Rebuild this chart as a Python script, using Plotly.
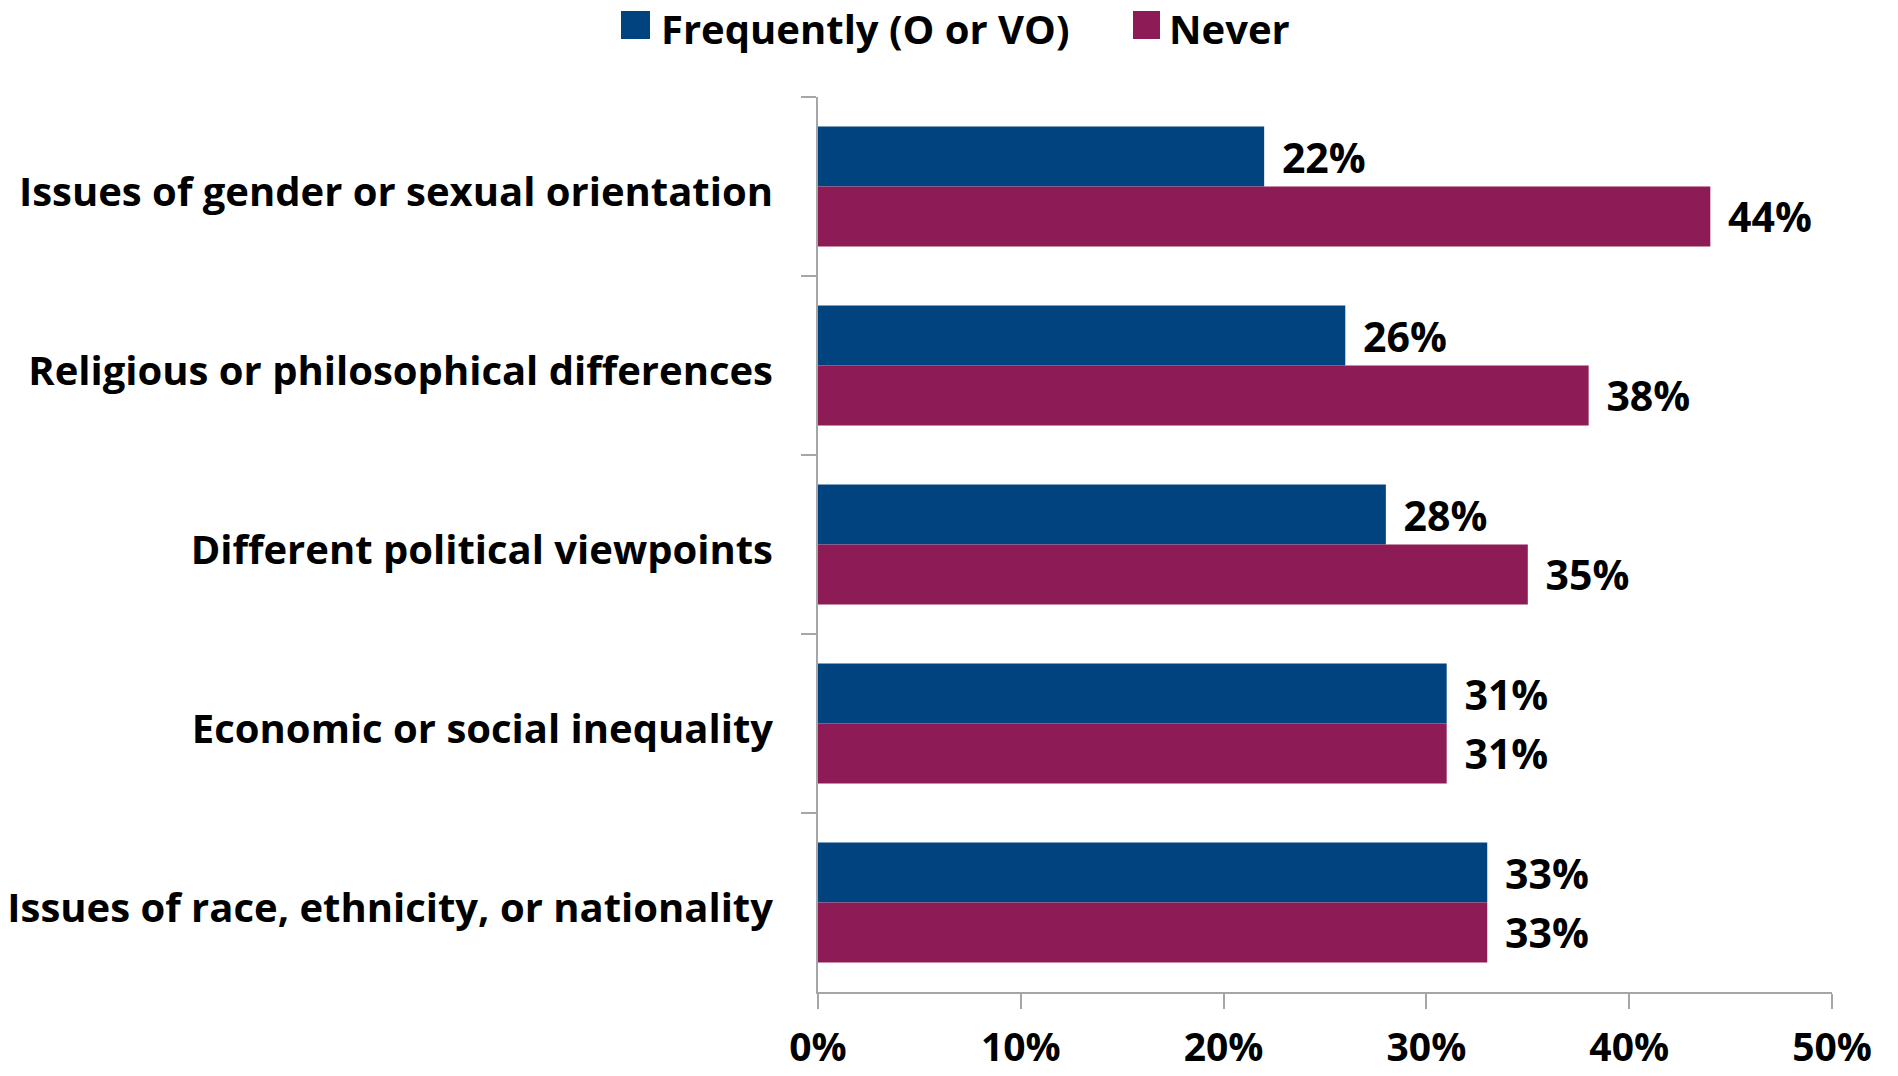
import plotly.graph_objects as go

categories = [
    "Issues of gender or sexual orientation",
    "Religious or philosophical differences",
    "Different political viewpoints",
    "Economic or social inequality",
    "Issues of race, ethnicity, or nationality",
]
series_names = ["Frequently (O or VO)", "Never"]
frequently = [0.22, 0.26, 0.28, 0.31, 0.33]
never = [0.44, 0.38, 0.35, 0.31, 0.33]
x_tickvals = [0, 0.1, 0.2, 0.3, 0.4, 0.5]
x_ticktext = ["0%", "10%", "20%", "30%", "40%", "50%"]

colors = ["#00437F", "#8D1B56"]
FONT = "Open Sans"
W, H = 1898, 1076
L, R, T, B = 818, 1832, 97, 992

fig = go.Figure()
for name, vals, col in zip(series_names, [frequently, never], colors):
    fig.add_trace(go.Bar(
        y=categories, x=vals, name=name, orientation="h",
        marker=dict(color=col, line=dict(width=0)),
        text=["\u00a0\u200a" + f"{v*100:.0f}%" for v in vals],
        textposition="outside", constraintext="none", cliponaxis=False,
        textfont=dict(family=FONT, size=41, color="#000000", weight="bold"),
        showlegend=False,
    ))

def px_x(p):
    return (p - L) / (R - L)

def px_y(p):
    return (B - p) / (B - T)

legend_items = [(621, 650, 659), (1133, 1160, 1167)]
for (x0, x1, tx), name, col in zip(legend_items, series_names, colors):
    fig.add_shape(type="rect", xref="paper", yref="paper",
                  x0=px_x(x0), x1=px_x(x1), y0=px_y(39), y1=px_y(11),
                  fillcolor=col, line=dict(width=0))
    fig.add_annotation(xref="paper", yref="paper", x=px_x(tx), y=px_y(28),
                       xanchor="left", yanchor="middle", showarrow=False,
                       text=name, font=dict(family=FONT, size=40, color="#000", weight="bold"))

fig.update_layout(
    width=W, height=H, barmode="group", bargap=0.33, bargroupgap=0,
    margin=dict(l=L, r=W - R, t=T, b=H - B, pad=0, autoexpand=False),
    plot_bgcolor="white", paper_bgcolor="white",
    font=dict(family=FONT, color="#000"),
    xaxis=dict(range=[0, 0.5], tickvals=x_tickvals, ticktext=x_ticktext,
               showgrid=False, zeroline=False, showline=True, linecolor="#A6A6A6",
               linewidth=2, ticks="outside", ticklen=15, tickwidth=2, tickcolor="#A6A6A6",
               tickfont=dict(family=FONT, size=39, color="#000", weight="bold"),
               ticklabelstandoff=5, automargin=False),
    yaxis=dict(autorange="reversed", type="category", tickson="boundaries",
               showgrid=False, showline=True, linecolor="#A6A6A6", linewidth=2,
               ticks="outside", ticklen=15, tickwidth=2, tickcolor="#A6A6A6",
               tickfont=dict(family=FONT, size=40, color="#000", weight="bold"),
               ticklabelstandoff=35, ticklabelshift=-5, automargin=False),
)

fig.write_html("out.html")
